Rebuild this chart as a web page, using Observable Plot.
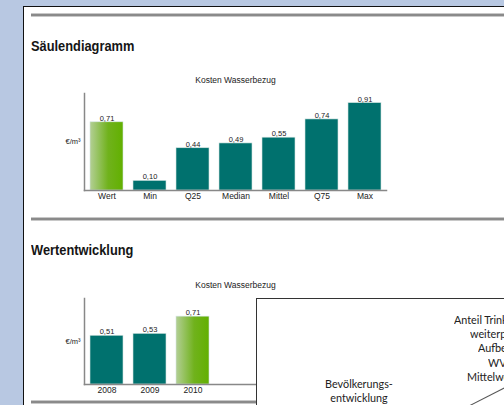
<!DOCTYPE html>
<html><head><meta charset="utf-8">
<script src="https://cdn.jsdelivr.net/npm/d3@7"></script>
<script src="https://cdn.jsdelivr.net/npm/@observablehq/plot@0.6"></script>
<style>
html,body{margin:0;padding:0;width:504px;height:405px;overflow:hidden;background:#b8c8e2;position:relative;}
#page{position:absolute;left:23px;top:6px;width:600px;height:500px;background:#fff;border-left:1.5px solid #111;border-top:1.5px solid #111;}
.rule{position:absolute;left:31px;width:500px;height:2px;background:#8a8a8a;border-top:1px solid #c8c8c8;border-bottom:1px solid #c8c8c8;}
.h{position:absolute;left:31px;font:bold 14.5px/1 "Liberation Sans",Arial,sans-serif;color:#151515;transform:scaleX(0.885);transform-origin:left top;white-space:nowrap;}
.chart{position:absolute;left:0;}
#box{position:absolute;left:256px;top:298px;width:320px;height:200px;background:#fff;border:1px solid #333;overflow:hidden;}
.bt{position:absolute;font:12px/1 Lato,"Open Sans",sans-serif;color:#222;white-space:nowrap;transform:scaleX(0.9);}
#diag{position:absolute;height:1px;background:#555;transform-origin:left center;}
</style>
</head><body>
<svg width="0" height="0" style="position:absolute">
  <defs>
    <linearGradient id="gGreen" x1="0" y1="0" x2="1" y2="0">
      <stop offset="0" stop-color="#b3cf95"/>
      <stop offset="0.55" stop-color="#70b21c"/>
      <stop offset="1" stop-color="#62b000"/>
    </linearGradient>
  </defs>
</svg>
<div id="page"></div>
<div class="rule" style="top:13px"></div>
<div class="h" style="top:39px">Säulendiagramm</div>
<div class="chart" id="c1" style="top:60px"></div>
<div class="rule" style="top:217px"></div>
<div class="h" style="top:243px">Wertentwicklung</div>
<div class="chart" id="c2" style="top:262px"></div>
<div class="rule" style="top:400px"></div>
<div id="box">
  <div class="bt" style="left:197px;top:15px;transform-origin:left top">Anteil Trinkwasser</div>
  <div class="bt" style="left:213px;top:29px;transform-origin:left top">weiterpumpen</div>
  <div class="bt" style="left:221px;top:43px;transform-origin:left top">Aufbereitung</div>
  <div class="bt" style="left:231px;top:58px;transform-origin:left top">WVU</div>
  <div class="bt" style="left:210px;top:72px;transform-origin:left top">Mittelwert</div>
  <div class="bt" style="left:102px;top:79px;width:0;"><span style="position:absolute;left:0;transform:translateX(-50%)">Bevölkerungs-</span></div>
  <div class="bt" style="left:102px;top:93px;width:0;"><span style="position:absolute;left:0;transform:translateX(-50%)">entwicklung</span></div>
  <div id="diag" style="left:211px;top:107px;width:44px;transform:rotate(-27deg)"></div>
</div>
<script>
const chartTitle = "Kosten Wasserbezug";
const yLabel = "€/m³";
const cats1 = ["Wert","Min","Q25","Median","Mittel","Q75","Max"];
const vals1 = [0.71,0.10,0.44,0.49,0.55,0.74,0.91];
const highlight1 = "Wert";
const years = ["2008","2009","2010"];
const vals2 = [0.51,0.53,0.71];
const highlight2 = "2010";

const teal = "#00716e";
const fmt = v => d3.format(".2f")(v).replace(".", ",");
const font = '"Liberation Sans", Arial, sans-serif';

function chart(cats, vals, hl, opts) {
  const data = cats.map((c,i)=>({c, v: vals[i], hl: c===hl}));
  return Plot.plot({
    width: 504, height: opts.height,
    marginTop: opts.mt, marginBottom: opts.mb, marginLeft: 84, marginRight: 118,
    style: {fontFamily: font, fontSize: "8.5px", color: "#222", background: "transparent", overflow: "visible"},
    x: Object.assign({domain: cats, paddingInner: 0.233, paddingOuter: 0.127, label: null, tickSize: 0, tickPadding: 2}, opts.xr ? {range: opts.xr} : {}),
    y: {domain: [0, opts.ymax], axis: null},
    color: {type: "identity"},
    marks: [
      Plot.barY(data, {x: "c", y: "v", fill: d => d.hl ? "url(#gGreen)" : teal, stroke: "#d3e4e2", strokeWidth: 0.6}),
      Plot.text(data, {x: "c", y: "v", text: d => fmt(d.v), lineAnchor: "bottom", dy: -1.5, fontSize: 7.5, fill: "#222"}),
      Plot.frame({anchor: "left", stroke: "#888", strokeWidth: 1.5}),
      Plot.frame({anchor: "bottom", stroke: "#888", strokeWidth: 1.5}),
      Plot.text([yLabel], {frameAnchor: "left", dx: -4, textAnchor: "end", fontSize: 7.5, fill: "#222"}),
      Plot.text([chartTitle], {frameAnchor: "top", dy: -17, fontSize: 8.5, fill: "#222"})
    ]
  });
}

document.getElementById("c1").append(chart(cats1, vals1, highlight1, {height: 150, mt: 33, mb: 20, ymax: 1.01}));
document.getElementById("c2").append(chart(years, vals2, highlight2, {height: 140, mt: 36, mb: 18, ymax: 0.9, xr: [84, 214]}));
</script>
</body></html>
